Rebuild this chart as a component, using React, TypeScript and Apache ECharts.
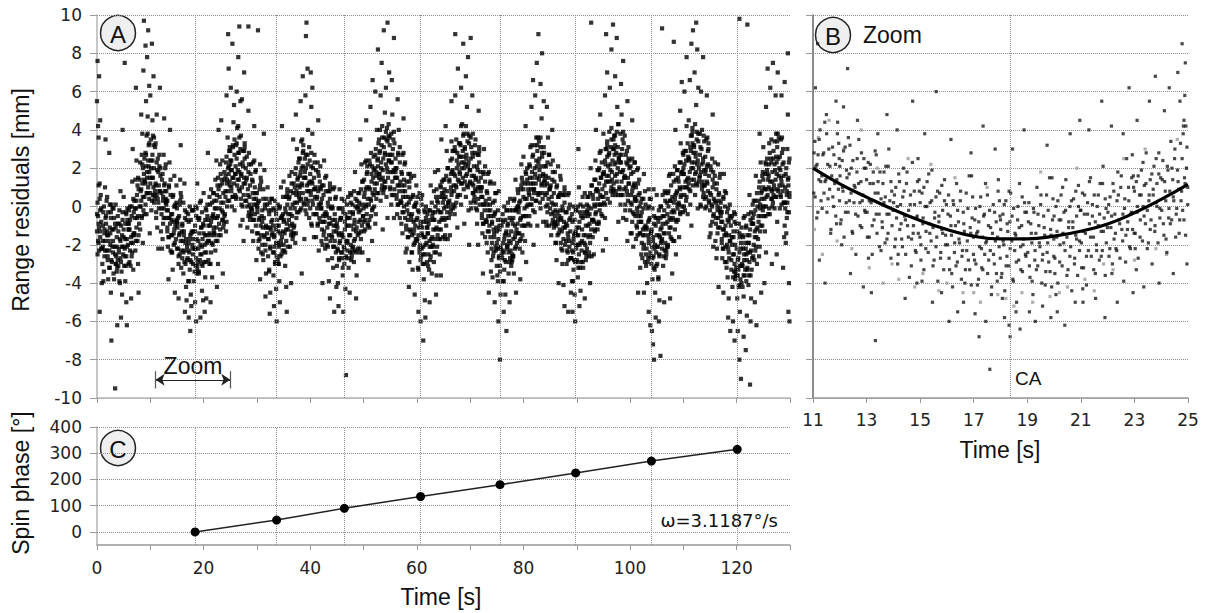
import React, { useEffect, useRef } from "react";
import * as echarts from "echarts";

// ---------------- DATA ----------------
// Panel C: spin phase fixes (time in s, phase in degrees)
const spinTimes = [18.4, 33.7, 46.4, 60.7, 75.6, 89.8, 104.0, 120.1];
const spinPhases = [0, 45, 90, 135, 180, 225, 270, 315];
const spinRateText = "\u03c9=3.1187\u00b0/s";

// Panel B: fitted curve (time in s, residual in mm)
const fitTimesB = [11, 12, 13, 14, 15, 16, 17, 18, 19, 20, 21, 22, 23, 24, 25];
const fitValuesB = [2.0, 1.18, 0.49, -0.16, -0.73, -1.2, -1.55, -1.69, -1.69, -1.55, -1.29, -0.91, -0.33, 0.37, 1.15];
const closestApproach = 18.35;
const zoomStart = 11;
const zoomEnd = 25;

// Panel A residuals, flat pairs: time in 0.1 s, residual in 0.1 mm
const residA00 = [
0,-13,1,2,1,-25,2,-5,3,-19,3,11,4,-11,5,12,6,-2,6,-16,7,6,8,-22,8,-8,9,-40,2,42,5,-55,1,76,4,68,6,45,0,55,3,36,
10,-30,11,-10,11,-21,12,-39,13,0,14,-14,14,-26,15,10,15,-18,16,-6,17,-5,18,-23,19,5,19,-13,16,35,
20,-26,21,-38,21,-3,22,-18,23,-23,24,-32,24,1,25,-14,26,-45,26,-6,27,-28,28,-12,29,-21,29,-1,27,-70,23,28,
30,-24,31,-12,31,-1,32,-38,33,-21,34,-9,35,-30,35,1,36,-26,37,-16,37,-34,38,-32,39,-5,39,-28,34,-95,38,-62,
40,-13,40,-31,41,-22,42,-2,42,-39,43,-17,44,-27,44,8,45,-10,46,-34,47,-21,47,-46,48,-7,49,-25,45,-58,48,40,
50,-16,50,5,51,-31,52,-22,53,-39,53,-9,54,-3,55,-26,55,-50,56,-17,57,-1,57,-7,58,-20,59,-12,56,-62,52,75,
60,-2,60,-9,61,-12,62,-23,62,-7,63,-31,64,-16,65,0,65,-26,66,13,67,-19,68,4,68,-33,69,-14,64,-48,67,30,
70,3,70,-15,71,-6,72,14,72,-23,73,-1,74,-11,74,24,75,6,76,-18,77,-5,77,-30,78,9,79,-9,73,62,78,-45,
80,0,81,-12,81,23,82,8,83,3,84,-6,84,27,85,12,86,-19,86,20,87,-2,88,14,89,5,89,25,83,48,87,71,85,38,88,97,
90,13,91,28,91,1,92,21,93,7,93,37,94,15,95,38,96,24,96,10,97,32,98,4,98,18,99,-14,92,55,94,78,96,92,98,63,95,47,91,84
];
const residA10 = [
100,12,101,24,101,35,102,-2,103,15,104,27,105,6,105,37,106,10,107,20,107,2,108,4,109,31,109,8,100,58,103,85,106,68,104,45,
110,12,110,33,111,-3,112,6,113,-11,113,19,114,25,115,2,115,-22,116,11,117,27,117,21,118,8,119,16,112,48,118,62,
120,-13,121,7,121,-4,122,-22,123,17,124,3,124,-9,125,27,125,-1,126,11,127,12,128,-6,129,22,129,4,126,46,
130,8,130,1,131,-2,132,-13,132,3,133,-21,134,-6,135,10,135,-16,136,23,137,-9,138,14,138,-23,139,-4,134,-38,137,40,
140,-24,141,-4,141,-15,142,-33,143,6,144,-8,144,-20,145,16,145,-12,146,0,147,1,148,-17,149,11,149,-7,146,-45,
150,-1,150,-8,151,-11,152,-22,152,-6,153,-30,154,-15,155,1,155,-25,156,14,157,-18,158,5,158,-32,159,-13,153,-48,157,32,
160,-9,160,-27,161,-18,162,2,162,-35,163,-13,164,-23,164,12,165,-6,166,-30,167,-17,167,-42,168,-3,169,-21,165,-55,168,-49,
170,-27,171,-39,171,-4,172,-19,173,-24,174,-33,174,0,175,-15,176,-46,176,-7,177,-29,178,-13,179,-22,179,-2,172,-58,177,-52,175,-65,
180,-25,181,-13,181,-2,182,-39,183,-22,184,-10,185,-31,185,0,186,-27,187,-17,187,-35,188,-33,189,-6,189,-29,184,-50,186,-60,188,12,
190,-22,191,-7,191,-34,192,-14,193,-28,193,2,194,-20,195,3,196,-11,196,-25,197,-3,198,-31,198,-17,199,-49,194,-58,197,-44
];
const residA20 = [
200,-14,200,7,201,-29,202,-20,203,-37,203,-7,204,-1,205,-24,205,-48,206,-15,207,1,207,-5,208,-18,209,-10,202,-55,208,28,
210,-18,211,-30,211,5,212,-10,213,-15,214,-24,214,9,215,-6,216,-37,216,2,217,-20,218,-4,219,-13,219,7,213,-50,
220,3,220,-15,221,-6,222,14,222,-23,223,-1,224,-11,224,24,225,6,226,-18,227,-5,227,-30,228,9,229,-9,225,-42,228,40,
230,-1,231,11,231,22,232,-15,233,2,234,14,235,-7,235,24,236,-3,237,7,237,-11,238,-9,239,18,239,-5,233,45,236,-35,
240,-4,241,16,241,5,242,-13,243,26,244,12,244,0,245,36,245,8,246,20,247,21,248,3,249,31,249,13,243,58,247,72,246,90,
250,29,250,22,251,19,252,8,252,24,253,0,254,15,255,31,255,5,256,44,257,12,258,35,258,-2,259,17,251,62,254,85,257,53,
260,17,261,32,261,5,262,25,263,11,263,41,264,19,265,42,266,28,266,14,267,36,268,8,268,22,269,-10,262,60,265,78,267,94,269,55,
270,16,270,37,271,1,272,10,273,-7,273,23,274,29,275,6,275,-18,276,15,277,31,277,25,278,12,279,20,272,56,276,70,
280,3,281,15,281,26,282,-11,283,6,284,18,285,-3,285,28,286,1,287,11,287,-7,288,-5,289,22,289,-1,284,50,284,94,
290,-1,291,14,291,-13,292,7,293,-7,293,23,294,1,295,24,296,10,296,-4,297,18,298,-10,298,4,299,-28,295,42
];
const residA30 = [
300,7,300,0,301,-3,302,-14,302,2,303,-22,304,-7,305,9,305,-17,306,22,307,-10,308,13,308,-24,309,-5,306,-38,302,92,
310,-2,310,-20,311,-11,312,9,312,-28,313,-6,314,-16,314,19,315,1,316,-23,317,-10,317,-35,318,4,319,-14,316,-47,313,38,
320,-11,320,10,321,-26,322,-17,323,-34,323,-4,324,2,325,-21,325,-45,326,-12,327,4,327,-2,328,-15,329,-7,324,-56,
330,-24,331,-36,331,-1,332,-16,333,-21,334,-30,334,3,335,-12,336,-43,336,-4,337,-26,338,-10,339,-19,339,1,332,-52,337,-60,
340,-30,341,-10,341,-21,342,-39,343,0,344,-14,344,-26,345,10,345,-18,346,-6,347,-5,348,-23,349,5,349,-13,343,-50,347,42,
350,-8,350,13,351,-23,352,-14,353,-31,353,-1,354,5,355,-18,355,-42,356,-9,357,7,357,1,358,-12,359,-4,356,-55,
360,-7,361,5,361,16,362,-21,363,-4,364,8,365,-13,365,18,366,-9,367,1,367,-17,368,-15,369,12,369,-11,364,-40,368,35,
370,-10,371,10,371,-1,372,-19,373,20,374,6,374,-6,375,30,375,2,376,14,377,15,378,-3,379,25,379,7,373,48,
380,10,381,25,381,-2,382,18,383,4,383,34,384,12,385,35,386,21,386,7,387,29,388,1,388,15,389,-17,382,55,386,68,384,-35,
390,25,390,18,391,15,392,4,392,20,393,-4,394,11,395,27,395,1,396,40,397,8,398,31,398,-6,399,13,391,58,395,72,393,96,392,89
];
const residA40 = [
400,17,400,-1,401,8,402,28,402,-9,403,13,404,3,404,38,405,20,406,-4,407,9,407,-16,408,23,409,5,402,52,401,70,404,62,
410,-4,411,-16,411,19,412,4,413,-1,414,-10,414,23,415,8,416,-23,416,16,417,-6,418,10,419,1,419,21,415,45,
420,9,420,2,421,-1,422,-12,422,4,423,-20,424,-5,425,11,425,-15,426,24,427,-8,428,15,428,-22,429,-3,423,-40,
430,-5,430,16,431,-20,432,-11,433,-28,433,2,434,8,435,-15,435,-39,436,-6,437,10,437,4,438,-9,439,-1,437,-48,
440,-15,441,0,441,-27,442,-7,443,-21,443,9,444,-13,445,10,446,-4,446,-18,447,4,448,-24,448,-10,449,-42,445,-55,
450,-31,451,-11,451,-22,452,-40,453,-1,454,-15,454,-27,455,9,455,-19,456,-7,457,-6,458,-24,459,4,459,-14,453,-52,
460,-24,461,-36,461,-1,462,-16,463,-21,464,-30,464,3,465,-12,466,-43,466,-4,467,-26,468,-10,469,-19,469,1,462,-55,467,-88,
470,-18,471,-6,471,5,472,-32,473,-15,474,-3,475,-24,475,7,476,-20,477,-10,477,-28,478,-26,479,1,479,-22,474,-45,
480,-3,480,-21,481,-12,482,8,482,-29,483,-7,484,-17,484,18,485,0,486,-24,487,-11,487,-36,488,3,489,-15,486,-48,
490,7,490,0,491,-3,492,-14,492,2,493,-22,494,-7,495,9,495,-17,496,22,497,-10,498,13,498,-24,499,-5,494,35
];
const residA50 = [
500,-1,501,14,501,-13,502,7,503,-7,503,23,504,1,505,24,506,10,506,-4,507,18,508,-10,508,4,509,-28,505,45,
510,1,511,-11,511,24,512,9,513,4,514,-5,514,28,515,13,516,-18,516,21,517,-1,518,15,519,6,519,26,513,52,517,66,
520,0,521,20,521,9,522,-9,523,30,524,16,524,4,525,40,525,12,526,24,527,25,528,7,529,35,529,17,522,60,527,82,
530,17,531,29,531,40,532,3,533,20,534,32,535,11,535,42,536,15,537,25,537,7,538,9,539,36,539,13,532,58,534,75,538,92,536,-12,
540,28,540,49,541,13,542,22,543,5,543,35,544,41,545,18,545,-6,546,27,547,43,547,37,548,24,549,32,542,62,545,96,548,70,
550,27,550,9,551,18,552,38,552,1,553,23,554,13,554,48,555,30,556,6,557,19,557,-6,558,33,559,15,553,66,557,88,
560,25,560,18,561,15,562,4,562,20,563,-4,564,11,565,27,565,1,566,40,567,8,568,31,568,-6,569,13,564,56,
570,3,571,18,571,-9,572,11,573,-3,573,27,574,5,575,28,576,14,576,0,577,22,578,-6,578,8,579,-24,575,46,
580,-10,581,-22,581,13,582,-2,583,-7,584,-16,584,17,585,2,586,-29,586,10,587,-12,588,4,589,-5,589,15,585,-42,
590,-24,591,-4,591,-15,592,-33,593,6,594,-8,594,-20,595,16,595,-12,596,0,597,1,598,-17,599,11,599,-7,596,-46
];
const residA60 = [
600,-18,601,-6,601,5,602,-32,603,-15,604,-3,605,-24,605,7,606,-20,607,-10,607,-28,608,-26,609,1,609,-22,603,-55,607,-60,
610,-15,610,6,611,-30,612,-21,613,-38,613,-8,614,-2,615,-25,615,-49,616,-16,617,0,617,-6,618,-19,619,-11,612,-70,616,-58,
620,-4,620,-11,621,-14,622,-25,622,-9,623,-33,624,-18,625,-2,625,-28,626,11,627,-21,628,2,628,-35,629,-16,624,-50,
630,-3,630,-21,631,-12,632,8,632,-29,633,-7,634,-17,634,18,635,0,636,-24,637,-11,637,-36,638,3,639,-15,636,-46,
640,-2,640,19,641,-17,642,-8,643,-25,643,5,644,11,645,-12,645,-36,646,-3,647,13,647,7,648,-6,649,2,646,35,
650,14,650,7,651,4,652,-7,652,9,653,-15,654,0,655,16,655,-10,656,29,657,-3,658,20,658,-17,659,2,654,42,
660,-6,661,14,661,3,662,-15,663,24,664,10,664,-2,665,34,665,6,666,18,667,19,668,1,669,29,669,11,665,55,
670,8,671,-4,671,31,672,16,673,11,674,2,674,35,675,20,676,-11,676,28,677,6,678,22,679,13,679,33,672,58,677,72,672,90,
680,18,681,33,681,6,682,26,683,12,683,42,684,20,685,43,686,29,686,15,687,37,688,9,688,23,689,-9,683,62,687,85,
690,31,690,13,691,22,692,42,692,5,693,27,694,17,694,52,695,34,696,10,697,23,697,-2,698,37,699,19,692,68,696,78,698,-20
];
const residA70 = [
700,13,701,25,701,36,702,-1,703,16,704,28,705,7,705,38,706,11,707,21,707,3,708,5,709,32,709,9,704,58,701,88,
710,14,710,35,711,-1,712,8,713,-9,713,21,714,27,715,4,715,-20,716,13,717,29,717,23,718,10,719,18,716,50,
720,15,720,8,721,5,722,-6,722,10,723,-14,724,1,725,17,725,-9,726,30,727,-2,728,21,728,-16,729,3,724,-35,
730,-7,731,8,731,-19,732,1,733,-13,733,17,734,-5,735,18,736,4,736,-10,737,12,738,-16,738,-2,739,-34,735,-45,
740,-28,741,-8,741,-19,742,-37,743,2,744,-12,744,-24,745,12,745,-16,746,-4,747,-3,748,-21,749,7,749,-11,746,-50,
750,-13,750,-31,751,-22,752,-2,752,-39,753,-17,754,-27,754,8,755,-10,756,-34,757,-21,757,-46,758,-7,759,-25,753,-60,756,-80,
760,-27,761,-39,761,-4,762,-19,763,-24,764,-33,764,0,765,-15,766,-46,766,-7,767,-29,768,-13,769,-22,769,-2,763,-55,768,-65,
770,-21,771,-9,771,2,772,-35,773,-18,774,-6,775,-27,775,4,776,-23,777,-13,777,-31,778,-29,779,-2,779,-25,774,-50,
780,-26,781,-6,781,-17,782,-35,783,4,784,-10,784,-22,785,14,785,-14,786,-2,787,-1,788,-19,789,9,789,-9,786,-45,
790,7,790,0,791,-3,792,-14,792,2,793,-22,794,-7,795,9,795,-17,796,22,797,-10,798,13,798,-24,799,-5,794,-38
];
const residA80 = [
800,5,800,26,801,-10,802,-1,803,-18,803,12,804,18,805,-5,805,-29,806,4,807,20,807,14,808,1,809,9,804,42,
810,7,811,22,811,-5,812,15,813,1,813,31,814,9,815,32,816,18,816,4,817,26,818,-2,818,12,819,-20,815,52,818,66,
820,9,821,-3,821,32,822,17,823,12,824,3,824,36,825,21,826,-10,826,29,827,7,828,23,829,14,829,34,822,58,825,75,828,90,
830,25,830,7,831,16,832,36,832,-1,833,21,834,11,834,46,835,28,836,4,837,17,837,-8,838,31,839,13,832,64,835,80,838,55,
840,21,840,14,841,11,842,0,842,16,843,-8,844,7,845,23,845,-3,846,36,847,4,848,27,848,-10,849,9,844,52,
850,-1,851,11,851,22,852,-15,853,2,854,14,855,-7,855,24,856,-3,857,7,857,-11,858,-9,859,18,859,-5,854,40,
860,-19,861,1,861,-10,862,-28,863,11,864,-3,864,-15,865,21,865,-7,866,5,867,6,868,-12,869,16,869,-2,866,-40,
870,-7,870,14,871,-22,872,-13,873,-30,873,0,874,6,875,-17,875,-41,876,-8,877,8,877,2,878,-11,879,-3,877,-52,
880,-18,881,-3,881,-30,882,-10,883,-24,883,6,884,-16,885,7,886,-7,886,-21,887,1,888,-27,888,-13,889,-45,884,-55,
890,-27,891,-39,891,-4,892,-19,893,-24,894,-33,894,0,895,-15,896,-46,896,-7,897,-29,898,-13,899,-22,899,-2,892,-55,897,-60
];
const residA90 = [
900,-11,900,-29,901,-20,902,0,902,-37,903,-15,904,-25,904,10,905,-8,906,-32,907,-19,907,-44,908,-5,909,-23,905,-52,903,30,
910,-18,911,-6,911,5,912,-32,913,-15,914,-3,915,-24,915,7,916,-20,917,-10,917,-28,918,-26,919,1,919,-22,915,-48,
920,5,920,-2,921,-5,922,-16,922,0,923,-24,924,-9,925,7,925,-19,926,20,927,-12,928,11,928,-26,929,-7,925,-40,927,96,
930,-16,931,4,931,-7,932,-25,933,14,934,0,934,-12,935,24,935,-4,936,8,937,9,938,-9,939,19,939,1,936,40,
940,4,941,19,941,-8,942,12,943,-2,943,28,944,6,945,29,946,15,946,1,947,23,948,-5,948,9,949,-23,944,48,
950,17,950,38,951,2,952,11,953,-6,953,24,954,30,955,7,955,-17,956,16,957,32,957,26,958,13,959,21,953,58,957,70,955,90,
960,16,961,28,961,39,962,2,963,19,964,31,965,10,965,41,966,14,967,24,967,6,968,8,969,35,969,12,962,62,965,82,968,95,
970,37,970,30,971,27,972,16,972,32,973,8,974,23,975,39,975,13,976,52,977,20,978,43,978,6,979,25,972,68,975,88,978,-8,
980,27,980,9,981,18,982,38,982,1,983,23,984,13,984,48,985,30,986,6,987,19,987,-6,988,33,989,15,983,64,987,76,
990,16,990,37,991,1,992,10,993,-7,993,23,994,29,995,6,995,-18,996,15,997,31,997,25,998,12,999,20,995,55
];
const residA100 = [
1000,-2,1001,-14,1001,21,1002,6,1003,1,1004,-8,1004,25,1005,10,1006,-21,1006,18,1007,-4,1008,12,1009,3,1009,23,1004,45,
1010,-5,1011,10,1011,-17,1012,3,1013,-11,1013,19,1014,-3,1015,20,1016,6,1016,-8,1017,14,1018,-14,1018,0,1019,-32,1015,-45,
1020,2,1020,-5,1021,-8,1022,-19,1022,-3,1023,-27,1024,-12,1025,4,1025,-22,1026,17,1027,-15,1028,8,1028,-29,1029,-10,1026,-45,
1030,-31,1031,-11,1031,-22,1032,-40,1033,-1,1034,-15,1034,-27,1035,9,1035,-19,1036,-7,1037,-6,1038,-24,1039,4,1039,-14,1035,-55,1038,-62,
1040,-12,1040,-30,1041,-21,1042,-1,1042,-38,1043,-16,1044,-26,1044,9,1045,-9,1046,-33,1047,-20,1047,-45,1048,-6,1049,-24,1041,-65,1043,-72,1045,-80,1048,-58,
1050,-15,1050,6,1051,-30,1052,-21,1053,-38,1053,-8,1054,-2,1055,-25,1055,-49,1056,-16,1057,0,1057,-6,1058,-19,1059,-11,1054,-60,1057,-78,
1060,-17,1061,-5,1061,6,1062,-31,1063,-14,1064,-2,1065,-23,1065,8,1066,-19,1067,-9,1067,-27,1068,-25,1069,2,1069,-21,1064,-50,1060,93,
1070,-8,1071,7,1071,-20,1072,0,1073,-14,1073,16,1074,-6,1075,17,1076,3,1076,-11,1077,11,1078,-17,1078,-3,1079,-35,1075,-48,
1080,-6,1081,-18,1081,17,1082,2,1083,-3,1084,-12,1084,21,1085,6,1086,-25,1086,14,1087,-8,1088,8,1089,-1,1089,19,1085,40,1082,86,
1090,-7,1091,13,1091,2,1092,-16,1093,23,1094,9,1094,-3,1095,33,1095,5,1096,17,1097,18,1098,0,1099,28,1099,10,1094,50,1097,65
];
const residA110 = [
1100,27,1100,20,1101,17,1102,6,1102,22,1103,-2,1104,13,1105,29,1105,3,1106,42,1107,10,1108,33,1108,-4,1109,15,1102,60,1106,78,
1110,24,1110,45,1111,9,1112,18,1113,1,1113,31,1114,37,1115,14,1115,-10,1116,23,1117,39,1117,33,1118,20,1119,28,1112,66,1115,85,1118,92,
1120,32,1120,14,1121,23,1122,43,1122,6,1123,28,1124,18,1124,53,1125,35,1126,11,1127,24,1127,-1,1128,38,1129,20,1121,70,1124,96,1126,82,1128,62,
1130,15,1131,27,1131,38,1132,1,1133,18,1134,30,1135,9,1135,40,1136,13,1137,23,1137,5,1138,7,1139,34,1139,11,1133,60,1137,78,
1140,11,1141,26,1141,-1,1142,19,1143,5,1143,35,1144,13,1145,36,1146,22,1146,8,1147,30,1148,2,1148,16,1149,-16,1144,58,
1150,-2,1151,-14,1151,21,1152,6,1153,1,1154,-8,1154,25,1155,10,1156,-21,1156,18,1157,-4,1158,12,1159,3,1159,23,1155,48,
1160,-18,1161,2,1161,-9,1162,-27,1163,12,1164,-2,1164,-14,1165,22,1165,-6,1166,6,1167,7,1168,-11,1169,17,1169,-1,1166,-42,
1170,2,1170,-5,1171,-8,1172,-19,1172,-3,1173,-27,1174,-12,1175,4,1175,-22,1176,17,1177,-15,1178,8,1178,-29,1179,-10,1175,-45,
1180,-14,1180,7,1181,-29,1182,-20,1183,-37,1183,-7,1184,-1,1185,-24,1185,-48,1186,-15,1187,1,1187,-5,1188,-18,1189,-10,1184,-58,1188,-65,
1190,-28,1191,-16,1191,-5,1192,-42,1193,-25,1194,-13,1195,-34,1195,-3,1196,-30,1197,-20,1197,-38,1198,-36,1199,-9,1199,-32,1193,-60,1196,-70
];
const residA120 = [
1200,-36,1201,-48,1201,-13,1202,-28,1203,-33,1204,-42,1204,-9,1205,-24,1206,-55,1206,-16,1207,-38,1208,-22,1209,-31,1209,-11,1202,-65,1205,-80,1208,-90,1205,98,
1210,-30,1211,-15,1211,-42,1212,-22,1213,-36,1213,-6,1214,-28,1215,-5,1216,-19,1216,-33,1217,-11,1218,-39,1218,-25,1219,-57,1213,-68,1217,-75,
1220,-15,1220,-33,1221,-24,1222,-4,1222,-41,1223,-19,1224,-29,1224,6,1225,-12,1226,-36,1227,-23,1227,-48,1228,-9,1229,-27,1225,-93,1226,-60,1220,95,
1230,1,1230,-6,1231,-9,1232,-20,1232,-4,1233,-28,1234,-13,1235,3,1235,-23,1236,16,1237,-16,1238,7,1238,-30,1239,-11,1234,-50,1237,-62,
1240,-17,1241,3,1241,-8,1242,-26,1243,13,1244,-1,1244,-13,1245,23,1245,-5,1246,7,1247,8,1248,-10,1249,18,1249,0,1246,-45,1243,38,
1250,10,1250,31,1251,-5,1252,4,1253,-13,1253,17,1254,23,1255,0,1255,-24,1256,9,1257,25,1257,19,1258,6,1259,14,1255,52,1252,-40,1258,72,
1260,10,1261,22,1261,33,1262,-4,1263,13,1264,25,1265,4,1265,35,1266,8,1267,18,1267,0,1268,2,1269,29,1269,6,1263,62,1266,-30,1268,75,
1270,11,1271,-1,1271,34,1272,19,1273,14,1274,5,1274,38,1275,23,1276,-8,1276,31,1277,9,1278,25,1279,16,1279,36,1273,58,1277,70,1275,-25,
1280,11,1281,26,1281,-1,1282,19,1283,5,1283,35,1284,13,1285,36,1286,22,1286,8,1287,30,1288,2,1288,16,1289,-16,1284,58,1287,-32,
1290,-10,1291,10,1291,-1,1292,-19,1293,20,1294,6,1294,-6,1295,30,1295,2,1296,14,1297,15,1298,-3,1299,25,1299,7,1296,48,1298,-40,1290,65,1296,80,1297,-55,1299,-60
];
// Panel A, additional points in the dense core (same units)
const denseA1 = [
0,-4,2,-18,3,-9,4,-23,5,4,6,-13,8,-1,9,-22,11,-18,12,-3,13,-34,14,-12,15,-23,17,-9,18,3,19,-15,
20,-28,21,-15,23,-32,24,-11,25,-20,26,-3,27,1,28,-29,30,-18,31,-35,32,-6,34,-25,35,-11,36,-30,37,-21,39,-9,
41,-24,42,-9,43,-40,44,-18,45,-29,47,-15,48,-3,49,-21,50,-12,52,-26,53,-17,54,-31,55,-4,56,-21,58,-9,59,-30,
60,-12,61,-29,62,0,64,-19,65,-5,66,-24,67,-15,69,-3,70,-14,71,-1,73,-18,74,3,75,-6,76,11,77,15,78,-15,
80,14,82,0,83,9,84,-5,85,22,86,5,88,17,89,-4,91,12,92,27,93,-4,94,18,95,7,97,21,98,33,99,15,
100,7,101,20,103,3,104,24,105,15,106,32,107,36,108,6,110,11,111,-6,112,23,114,4,115,18,116,-1,117,8,119,20,
121,-1,122,14,123,-17,124,5,125,-6,127,8,128,20,129,2,130,3,132,-11,133,-2,134,-16,135,11,136,-6,138,6,139,-15,
140,-7,141,-24,142,5,144,-14,145,0,146,-19,147,-10,149,2,150,-22,151,-9,153,-26,154,-5,155,-14,156,3,157,7,158,-23,
160,-10,162,-24,163,-15,164,-29,165,-2,166,-19,168,-7,169,-28,171,-23,172,-8,173,-39,174,-17,175,-28,177,-14,178,-2,179,-20,
180,-30,181,-17,183,-34,184,-13,185,-22,186,-5,187,-1,188,-31,190,-18,191,-35,192,-6,194,-25,195,-11,196,-30,197,-21,199,-9,
200,-10,202,-24,203,-15,204,-29,205,-2,206,-19,208,-7,209,-28,211,-14,212,1,213,-30,214,-8,215,-19,217,-5,218,7,219,-11,
220,-14,221,-1,223,-18,224,3,225,-6,226,11,227,15,228,-15,230,5,231,-12,232,17,234,-2,235,12,236,-7,237,2,239,14,
241,8,242,23,243,-8,244,14,245,3,247,17,248,29,249,11,250,24,252,10,253,19,254,5,255,32,256,15,258,27,259,6,
260,21,261,4,262,33,264,14,265,28,266,9,267,18,269,30,270,4,271,17,273,0,274,21,275,12,276,29,277,33,278,3,
280,14,282,0,283,9,284,-5,285,22,286,5,288,17,289,-4,291,-2,292,13,293,-18,294,4,295,-7,297,7,298,19,299,1,
300,-14,301,-1,303,-18,304,3,305,-6,306,11,307,15,308,-15,310,-8,311,-25,312,4,314,-15,315,-1,316,-20,317,-11,319,1,
321,-17,322,-2,323,-33,324,-11,325,-22,327,-8,328,4,329,-14,330,-10,332,-24,333,-15,334,-29,335,-2,336,-19,338,-7,339,-28,
340,-13,341,-30,342,-1,344,-20,345,-6,346,-25,347,-16,349,-4,350,-20,351,-7,353,-24,354,-3,355,-12,356,5,357,9,358,-21,
360,4,362,-10,363,-1,364,-15,365,12,366,-5,368,7,369,-14,371,2,372,17,373,-14,374,8,375,-3,377,11,378,23,379,5,
380,3,381,16,383,-1,384,20,385,11,386,28,387,32,388,2,390,15,391,-2,392,27,394,8,395,22,396,3,397,12,399,24
];
const denseA2 = [
401,6,402,21,403,-10,404,12,405,1,407,15,408,27,409,9,410,10,412,-4,413,5,414,-9,415,18,416,1,418,13,419,-8,
420,-1,421,-18,422,11,424,-8,425,6,426,-13,427,-4,429,8,430,-17,431,-4,433,-21,434,0,435,-9,436,8,437,12,438,-18,
441,-16,442,-1,443,-32,444,-10,445,-21,447,-7,448,5,449,-13,450,-9,452,-23,453,-14,454,-28,455,-1,456,-18,458,-6,459,-27,
460,-15,461,-32,462,-3,464,-22,465,-8,466,-27,467,-18,469,-6,470,-23,471,-10,473,-27,474,-6,475,-15,476,2,477,6,478,-24,
480,-4,482,-18,483,-9,484,-23,485,4,486,-13,488,-1,489,-22,491,-8,492,7,493,-24,494,-2,495,-13,497,1,498,13,499,-5,
500,-8,501,5,503,-12,504,9,505,0,506,17,507,21,508,-9,510,10,511,-7,512,22,514,3,515,17,516,-2,517,7,519,19,
521,12,522,27,523,-4,524,18,525,7,527,21,528,33,529,15,530,28,532,14,533,23,534,9,535,36,536,19,538,31,539,10,
540,27,541,10,542,39,544,20,545,34,546,15,547,24,549,36,550,10,551,23,553,6,554,27,555,18,556,35,557,39,558,9,
560,20,562,6,563,15,564,1,565,28,566,11,568,23,569,2,571,2,572,17,573,-14,574,8,575,-3,577,11,578,23,579,5,
580,-12,581,1,583,-16,584,5,585,-4,586,13,587,17,588,-13,590,-7,591,-24,592,5,594,-14,595,0,596,-19,597,-10,599,2,
601,-17,602,-2,603,-33,604,-11,605,-22,607,-8,608,4,609,-14,610,-11,612,-25,613,-16,614,-30,615,-3,616,-20,618,-8,619,-29,
620,-14,621,-31,622,-2,624,-21,625,-7,626,-26,627,-17,629,-5,630,-20,631,-7,633,-24,634,-3,635,-12,636,5,637,9,638,-21,
640,2,642,-12,643,-3,644,-17,645,10,646,-7,648,5,649,-16,651,-1,652,14,653,-17,654,5,655,-6,657,8,658,20,659,2,
660,0,661,13,663,-4,664,17,665,8,666,25,667,29,668,-1,670,17,671,0,672,29,674,10,675,24,676,5,677,14,679,26,
681,17,682,32,683,1,684,23,685,12,687,26,688,38,689,20,690,30,692,16,693,25,694,11,695,38,696,21,698,33,699,12,
700,19,701,2,702,31,704,12,705,26,706,7,707,16,709,28,710,2,711,15,713,-2,714,19,715,10,716,27,717,31,718,1,
720,10,722,-4,723,5,724,-9,725,18,726,1,728,13,729,-8,731,-8,732,7,733,-24,734,-2,735,-13,737,1,738,13,739,-5,
740,-22,741,-9,743,-26,744,-5,745,-14,746,3,747,7,748,-23,750,-19,751,-36,752,-7,754,-26,755,-12,756,-31,757,-22,759,-10,
761,-23,762,-8,763,-39,764,-17,765,-28,767,-14,768,-2,769,-20,770,-10,772,-24,773,-15,774,-29,775,-2,776,-19,778,-7,779,-28,
780,-9,781,-26,782,3,784,-16,785,-2,786,-21,787,-12,789,0,790,-14,791,-1,793,-18,794,3,795,-6,796,11,797,15,798,-15
];
const denseA3 = [
800,9,802,-5,803,4,804,-10,805,17,806,0,808,12,809,-9,811,6,812,21,813,-10,814,12,815,1,817,15,818,27,819,9,
820,7,821,20,823,3,824,24,825,15,826,32,827,36,828,6,830,19,831,2,832,31,834,12,835,26,836,7,837,16,839,28,
841,6,842,21,843,-10,844,12,845,1,847,15,848,27,849,9,850,10,852,-4,853,5,854,-9,855,18,856,1,858,13,859,-8,
860,-2,861,-19,862,10,864,-9,865,5,866,-14,867,-5,869,7,870,-19,871,-6,873,-23,874,-2,875,-11,876,6,877,10,878,-20,
880,-9,882,-23,883,-14,884,-28,885,-1,886,-18,888,-6,889,-27,891,-23,892,-8,893,-39,894,-17,895,-28,897,-14,898,-2,899,-20,
900,-28,901,-15,903,-32,904,-11,905,-20,906,-3,907,1,908,-29,910,-12,911,-29,912,0,914,-19,915,-5,916,-24,917,-15,919,-3,
921,-10,922,5,923,-26,924,-4,925,-15,927,-1,928,11,929,-7,930,6,932,-8,933,1,934,-13,935,14,936,-3,938,9,939,-12,
940,8,941,-9,942,20,944,1,945,15,946,-4,947,5,949,17,950,5,951,18,953,1,954,22,955,13,956,30,957,34,958,4,
960,27,962,13,963,22,964,8,965,35,966,18,968,30,969,9,971,22,972,37,973,6,974,28,975,17,977,31,978,43,979,25,
980,10,981,23,983,6,984,27,985,18,986,35,987,39,988,9,990,15,991,-2,992,27,994,8,995,22,996,3,997,12,999,24,
1001,2,1002,17,1003,-14,1004,8,1005,-3,1007,11,1008,23,1009,5,1010,4,1012,-10,1013,-1,1014,-15,1015,12,1016,-5,1018,7,1019,-14,
1020,-8,1021,-25,1022,4,1024,-15,1025,-1,1026,-20,1027,-11,1029,1,1030,-25,1031,-12,1033,-29,1034,-8,1035,-17,1036,0,1037,4,1038,-26,
1040,-13,1042,-27,1043,-18,1044,-32,1045,-5,1046,-22,1048,-10,1049,-31,1051,-21,1052,-6,1053,-37,1054,-15,1055,-26,1057,-12,1058,0,1059,-18,
1060,-22,1061,-9,1063,-26,1064,-5,1065,-14,1066,3,1067,7,1068,-23,1070,-4,1071,-21,1072,8,1074,-11,1075,3,1076,-16,1077,-7,1079,5,
1081,-2,1082,13,1083,-18,1084,4,1085,-7,1087,7,1088,19,1089,1,1090,15,1092,1,1093,10,1094,-4,1095,23,1096,6,1098,18,1099,-3,
1100,17,1101,0,1102,29,1104,10,1105,24,1106,5,1107,14,1109,26,1110,12,1111,25,1113,8,1114,29,1115,20,1116,37,1117,41,1118,11,
1120,31,1122,17,1123,26,1124,12,1125,39,1126,22,1128,34,1129,13,1131,16,1132,31,1133,0,1134,22,1135,11,1137,25,1138,37,1139,19,
1140,4,1141,17,1143,0,1144,21,1145,12,1146,29,1147,33,1148,3,1150,7,1151,-10,1152,19,1154,0,1155,14,1156,-5,1157,4,1159,16,
1161,-6,1162,9,1163,-22,1164,0,1165,-11,1167,3,1168,15,1169,-3,1170,-3,1172,-17,1173,-8,1174,-22,1175,5,1176,-12,1178,0,1179,-21,
1180,-15,1181,-32,1182,-3,1184,-22,1185,-8,1186,-27,1187,-18,1189,-6,1190,-33,1191,-20,1193,-37,1194,-16,1195,-25,1196,-8,1197,-4,1198,-34,
1200,-22,1202,-36,1203,-27,1204,-41,1205,-14,1206,-31,1208,-19,1209,-40,1211,-31,1212,-16,1213,-47,1214,-25,1215,-36,1217,-22,1218,-10,1219,-28,
1220,-32,1221,-19,1223,-36,1224,-15,1225,-24,1226,-7,1227,-3,1228,-33,1230,-9,1231,-26,1232,3,1234,-16,1235,-2,1236,-21,1237,-12,1239,0,
1241,-5,1242,10,1243,-21,1244,1,1245,-10,1247,4,1248,16,1249,-2,1250,14,1252,0,1253,9,1254,-5,1255,22,1256,5,1258,17,1259,-4,
1260,16,1261,-1,1262,28,1264,9,1265,23,1266,4,1267,13,1269,25,1270,9,1271,22,1273,5,1274,26,1275,17,1276,34,1277,38,1278,8,
1280,20,1282,6,1283,15,1284,1,1285,28,1286,11,1288,23,1289,2,1291,2,1292,17,1293,-14,1294,8,1295,-3,1297,11,1298,23,1299,5
];

// Panel B residuals, flat pairs: time in 0.01 s, residual in 0.1 mm
const residB1 = [
1103,7,1107,34,1111,21,1114,-6,1119,27,1122,14,1126,40,1130,3,1133,16,1137,27,1141,7,1144,44,1148,14,1152,-3,1155,22,1159,30,1162,9,1166,-14,1170,16,1173,31,1177,0,1181,12,1184,22,1188,-9,1191,38,1195,9,1198,25,1109,62,1124,-28,1150,48,1186,55,1117,85,1145,-40,
1201,16,1205,-7,1209,24,1212,8,1216,-16,1220,31,1224,2,1227,15,1231,-3,1235,17,1238,32,1242,7,1246,-13,1249,24,1253,2,1257,10,1260,-25,1264,18,1268,-5,1271,35,1275,2,1279,13,1282,-11,1286,6,1290,25,1293,-2,1297,20,1214,52,1240,-35,1266,45,1288,-42,1229,72,
1302,-3,1306,23,1310,-16,1313,12,1317,2,1321,-25,1325,18,1328,-7,1332,7,1336,27,1339,-14,1343,7,1347,-4,1350,18,1354,-23,1358,-8,1361,12,1365,2,1369,-19,1372,21,1376,-4,1380,-14,1383,30,1387,3,1391,-27,1394,8,1399,-2,1318,-45,1342,38,1333,-70,1376,48,
1401,2,1405,-21,1409,10,1412,-6,1416,-30,1420,17,1424,-12,1427,1,1431,-17,1435,5,1438,20,1442,-5,1446,-25,1449,12,1453,-10,1457,-2,1460,-37,1464,6,1468,-17,1471,23,1475,-10,1479,1,1482,-23,1486,-6,1490,13,1493,-14,1497,8,1414,40,1444,-48,1472,55,1488,-40
];
const residB2 = [
1503,-20,1507,7,1511,-6,1514,-33,1519,0,1522,-13,1526,13,1530,-24,1533,-9,1537,2,1541,-18,1544,19,1548,-11,1552,-28,1555,-3,1559,5,1562,-16,1566,-39,1570,-8,1573,7,1577,-24,1581,-12,1584,-2,1588,-33,1591,14,1595,-15,1598,1,1517,38,1546,-50,1560,60,1580,-45,
1602,-20,1606,6,1610,-33,1613,-5,1617,-15,1621,-42,1625,1,1628,-24,1632,-10,1636,12,1639,-29,1643,-8,1647,-19,1650,3,1654,-38,1658,-23,1661,-3,1665,-13,1669,-33,1672,7,1676,-18,1680,-28,1683,16,1687,-11,1691,-41,1694,-6,1699,-16,1615,35,1640,-55,1662,-50,1690,28,1608,-60,
1703,-28,1707,-1,1711,-14,1714,-41,1719,-8,1722,-21,1726,5,1730,-32,1733,-16,1737,-5,1741,-25,1744,12,1748,-18,1752,-35,1755,-10,1759,-2,1762,-23,1766,-46,1770,-14,1773,1,1777,-30,1781,-18,1784,-8,1788,-39,1791,8,1795,-21,1798,-5,1705,-56,1720,-68,1745,-60,1760,-85,1780,30,1735,42,
1801,-12,1805,-35,1809,-4,1812,-20,1816,-44,1820,3,1824,-26,1827,-13,1831,-31,1835,-8,1838,7,1842,-18,1846,-38,1849,-1,1853,-23,1857,-15,1860,-50,1864,-7,1868,-28,1871,12,1875,-21,1879,-10,1882,-34,1886,-17,1890,2,1893,-25,1897,-3,1815,-58,1832,-62,1836,-68,1845,30,1858,-55,1873,-64,1888,40,
1902,-24,1906,2,1910,-37,1913,-9,1917,-19,1921,-46,1925,-3,1928,-28,1932,-14,1936,10,1939,-31,1943,-10,1947,-21,1950,1,1954,-40,1958,-25,1961,-5,1965,-15,1969,-34,1972,6,1976,-19,1980,-29,1983,15,1987,-12,1991,-42,1994,-7,1999,-17,1908,-55,1930,-60,1957,-52,1974,32,1988,-58
];
const residB3 = [
2003,-27,2007,0,2011,-13,2014,-40,2019,-7,2022,-20,2026,6,2030,-31,2033,-14,2037,-3,2041,-23,2044,14,2048,-16,2052,-33,2055,-8,2059,0,2062,-21,2066,-44,2070,-11,2073,4,2077,-27,2081,-15,2084,-5,2088,-36,2091,11,2095,-18,2098,-2,2012,-55,2040,-62,2060,38,2079,-50,2096,45,
2102,-19,2106,7,2110,-32,2113,-4,2117,-14,2121,-41,2125,2,2128,-23,2132,-9,2136,15,2139,-26,2143,-5,2147,-16,2150,6,2154,-35,2158,-20,2161,0,2165,-10,2169,-28,2172,12,2176,-13,2180,-23,2183,21,2187,-6,2191,-36,2194,-1,2199,-11,2108,-50,2130,40,2155,-48,2178,55,2190,-58,
2201,-3,2205,-26,2209,5,2212,-11,2216,-35,2220,12,2224,-17,2227,-4,2231,-22,2235,3,2238,18,2242,-7,2246,-27,2249,10,2253,-12,2257,-4,2260,-39,2264,4,2268,-15,2271,25,2275,-8,2279,3,2282,-21,2286,-4,2290,15,2293,-12,2297,10,2214,42,2236,-50,2258,38,2280,62,2295,-45,
2303,-14,2307,13,2311,0,2314,-27,2319,6,2322,-7,2326,19,2330,-18,2333,0,2337,11,2341,-9,2344,28,2348,-2,2352,-19,2355,6,2359,14,2362,-7,2366,-30,2370,6,2373,21,2377,-10,2381,2,2384,12,2388,-19,2391,28,2395,-1,2398,15,2310,45,2335,-42,2356,55,2378,68,2392,-40,
2402,-2,2406,24,2410,-15,2413,13,2417,3,2421,-24,2425,19,2428,-6,2432,8,2436,34,2439,-7,2443,14,2447,3,2450,25,2454,-16,2458,-1,2461,19,2465,9,2469,-7,2472,33,2476,8,2480,-2,2483,42,2487,15,2491,-15,2494,20,2499,10,2412,50,2430,62,2445,-35,2462,70,2478,85,2488,58,2496,-30,2485,45,2470,55,2490,75,2482,38
];
const residB4 = [
1104,28,1108,5,1115,22,1118,-3,1123,35,1129,13,1134,-1,1140,28,1145,13,1151,38,1156,4,1163,21,1167,-12,1174,5,1178,27,1185,-5,1189,14,1192,44,1196,33,1199,3,
1295,-3,1291,20,1284,3,1281,28,1276,-10,1270,12,1265,25,1259,-4,1254,11,1248,-14,1243,20,1236,3,1232,36,1225,19,1221,-3,1214,29,1210,10,1207,-20,1203,-9,1200,21,
1395,-10,1391,13,1384,-4,1381,21,1376,-17,1370,5,1365,18,1359,-11,1354,4,1348,-21,1343,13,1336,-4,1332,29,1325,12,1321,-10,1314,22,1310,3,1307,-27,1303,-16,1300,14,
1404,6,1408,-17,1415,0,1418,-25,1423,13,1429,-9,1434,-21,1440,8,1445,-7,1451,18,1456,-16,1463,1,1467,-31,1474,-14,1478,8,1485,-24,1489,-5,1492,25,1496,14,1499,-16,
1595,-20,1591,3,1584,-14,1581,11,1576,-27,1570,-5,1565,8,1559,-21,1554,-6,1548,-31,1543,3,1536,-14,1532,17,1525,0,1521,-22,1514,10,1510,-9,1507,-39,1503,-28,1500,2,
1604,-4,1608,-27,1615,-10,1618,-35,1623,3,1629,-19,1634,-31,1640,-2,1645,-17,1651,8,1656,-26,1663,-9,1667,-40,1674,-23,1678,-1,1685,-33,1689,-14,1692,16,1696,5,1699,-25,
1704,-7,1708,-30,1715,-13,1718,-38,1723,0,1729,-22,1734,-33,1740,-4,1745,-19,1751,6,1756,-28,1763,-11,1767,-42,1774,-25,1778,-3,1785,-35,1789,-16,1792,14,1796,3,1799,-27
];
const residB5 = [
1895,-26,1891,-3,1884,-20,1881,5,1876,-33,1870,-11,1865,0,1859,-29,1854,-14,1848,-39,1843,-5,1836,-22,1832,8,1825,-9,1821,-31,1814,1,1810,-18,1807,-48,1803,-37,1800,-7,
1904,-8,1908,-31,1915,-14,1918,-39,1923,-1,1929,-23,1934,-33,1940,-4,1945,-19,1951,6,1956,-28,1963,-11,1967,-41,1974,-24,1978,-2,1985,-34,1989,-15,1992,15,1996,4,1999,-26,
2095,-23,2091,0,2084,-17,2081,8,2076,-30,2070,-8,2065,3,2059,-26,2054,-11,2048,-36,2043,-2,2036,-19,2032,10,2025,-7,2021,-29,2014,3,2010,-16,2007,-46,2003,-35,2000,-5,
2195,-19,2191,4,2184,-13,2181,12,2176,-26,2170,-4,2165,6,2159,-23,2154,-8,2148,-33,2143,1,2136,-16,2132,13,2125,-4,2121,-26,2114,6,2110,-13,2107,-43,2103,-32,2100,-2,
2204,1,2208,-22,2215,-5,2218,-30,2223,8,2229,-14,2234,-23,2240,6,2245,-9,2251,16,2256,-18,2263,-1,2267,-29,2274,-12,2278,10,2285,-22,2289,-3,2292,27,2296,16,2299,-14,
2395,-6,2391,17,2384,0,2381,25,2376,-13,2370,9,2365,17,2359,-12,2354,3,2348,-22,2343,12,2336,-5,2332,23,2325,6,2321,-16,2314,16,2310,-3,2307,-33,2303,-22,2300,8,
2404,14,2408,-9,2415,8,2418,-17,2423,21,2429,-1,2434,-9,2440,20,2445,5,2451,30,2456,-4,2463,13,2467,-14,2474,3,2478,25,2485,-7,2489,12,2492,42,2496,31,2499,1
];
const residBGray = [
1105,-12,1120,36,1135,-25,1160,45,1190,-18,1215,30,1245,-22,1280,40,1310,-32,1340,20,1362,-40,1395,-30,1420,-38,1455,25,1480,-42,1510,-35,1540,22,1570,-44,1600,-40,1630,15,1660,-45,1700,-45,1725,-50,1750,10,1790,-46,1820,-48,1850,-52,1880,-45,1920,-50,1950,18,1985,-47,2020,-45,2050,-42,2085,20,2115,-38,2150,-44,2185,-30,2220,-33,2260,25,2300,-28,2340,30,2380,-22,2420,-25,2460,35,2495,20
];

// ---------------- HELPERS ----------------
const toPairs = (flat: number[], tDiv: number, rDiv: number) => {
  const out: number[][] = [];
  for (let i = 0; i + 1 < flat.length; i += 2) out.push([flat[i] / tDiv, flat[i + 1] / rDiv]);
  return out;
};

const TICK_FONT = "DejaVu Sans";
const TITLE_FONT = "Liberation Sans";

export default function App() {
  const ref = useRef<HTMLDivElement>(null);

  useEffect(() => {
    if (!ref.current) return;
    const chart = echarts.init(ref.current, undefined, { renderer: "svg" });

    const pointsA = [
      residA00, residA10, residA20, residA30, residA40, residA50, residA60,
      residA70, residA80, residA90, residA100, residA110, residA120,
      denseA1, denseA2, denseA3,
    ].flatMap((arr) => toPairs(arr, 10, 10));
    const pointsB = [residB1, residB2, residB3, residB4, residB5].flatMap((arr) => toPairs(arr, 100, 10));
    const pointsBGray = toPairs(residBGray, 100, 10);
    const fitB = fitTimesB.map((t, i) => [t, fitValuesB[i]]);
    const spin = spinTimes.map((t, i) => [t, spinPhases[i]]);

    const dotted = { type: "dotted" as const, color: "#8c8c8c", width: 1 };
    const tickLabel = { fontFamily: TICK_FONT, fontSize: 17, color: "#222" };

    const circleLabel = (cx: number, cy: number, letter: string) => ({
      type: "group",
      children: [
        { type: "circle", shape: { cx, cy, r: 17.5 }, style: { fill: "#efefef", stroke: "#222", lineWidth: 1.5 } },
        {
          type: "text", x: cx, y: cy + 1,
          style: { text: letter, font: `24px '${TITLE_FONT}'`, fill: "#111", textAlign: "center", textVerticalAlign: "middle", align: "center", verticalAlign: "middle" },
        },
      ],
    });
    const txt = (x: number, y: number, text: string, size: number, align: string, family = TITLE_FONT, rotation = 0) => ({
      type: "text", x, y, rotation,
      style: { text, font: `${size}px '${family}'`, fill: "#111", textAlign: align, textVerticalAlign: "middle", align, verticalAlign: "middle" },
    });

    chart.setOption({
      animation: false,
      backgroundColor: "#fff",
      grid: [
        { left: 97, top: 15, width: 693, height: 383 },
        { left: 813, top: 15, width: 375, height: 383 },
        { left: 97, top: 427, width: 693, height: 118 },
      ],
      xAxis: [
        {
          gridIndex: 0, type: "value", min: 0, max: 130, interval: 10,
          axisLine: { onZero: false, lineStyle: { color: "#b5b5b5", width: 1.5 } },
          axisTick: { show: true, length: 5, lineStyle: { color: "#999" } },
          axisLabel: { show: false }, splitLine: { show: false },
        },
        {
          gridIndex: 1, type: "value", min: zoomStart, max: zoomEnd, interval: 2,
          axisLine: { onZero: false, lineStyle: { color: "#999", width: 1.5 } },
          axisTick: { show: true, length: 5, lineStyle: { color: "#999" } },
          axisLabel: { ...tickLabel, margin: 13 }, splitLine: { show: false },
        },
        {
          gridIndex: 2, type: "value", min: 0, max: 130, interval: 10,
          axisLine: { onZero: false, lineStyle: { color: "#999", width: 1.5 } },
          axisTick: { show: true, length: 5, lineStyle: { color: "#999" } },
          axisLabel: { ...tickLabel, margin: 14, formatter: (v: number) => (v % 20 === 0 ? String(v) : "") },
          splitLine: { show: false },
        },
      ],
      yAxis: [
        {
          gridIndex: 0, type: "value", min: -10, max: 10, interval: 2,
          axisLine: { show: true, onZero: false, lineStyle: { color: "#b5b5b5", width: 1.5 } },
          axisTick: { show: true, length: 7, lineStyle: { color: "#999" } },
          axisLabel: { ...tickLabel, margin: 15 },
          splitLine: { show: true, lineStyle: dotted },
        },
        {
          gridIndex: 1, type: "value", min: -10, max: 10, interval: 2,
          axisLine: { show: true, onZero: false, lineStyle: { color: "#666", width: 1.5 } },
          axisTick: { show: true, length: 7, lineStyle: { color: "#999" } },
          axisLabel: { show: false },
          splitLine: { show: true, lineStyle: dotted },
        },
        {
          gridIndex: 2, type: "value", min: -50, max: 400,
          axisLine: { show: true, onZero: false, lineStyle: { color: "#b5b5b5", width: 1.5 } },
          axisTick: { show: true, length: 7, lineStyle: { color: "#999" }, customValues: [0, 100, 200, 300, 400] },
          axisLabel: { ...tickLabel, margin: 15, customValues: [0, 100, 200, 300, 400] },
          splitLine: { show: false },
        },
      ],
      series: [
        {
          type: "scatter", xAxisIndex: 0, yAxisIndex: 0, data: [], z: 1, silent: true,
          markLine: {
            silent: true, symbol: "none", label: { show: false }, lineStyle: dotted,
            data: spinTimes.map((t) => ({ xAxis: t })),
          },
        },
        {
          type: "scatter", name: "residuals", xAxisIndex: 0, yAxisIndex: 0, data: pointsA, z: 3, silent: true,
          symbol: "rect", symbolSize: 4.2, itemStyle: { color: "#000" },
        },
        {
          type: "scatter", xAxisIndex: 0, yAxisIndex: 0, data: [], z: 4, silent: true,
          markLine: {
            silent: true, symbol: ["arrow", "arrow"], symbolSize: 9, label: { show: false },
            lineStyle: { type: "solid", color: "#222", width: 1.2 },
            data: [[{ coord: [zoomStart, -9.05] }, { coord: [zoomEnd, -9.05] }]],
          },
        },
        {
          type: "scatter", xAxisIndex: 0, yAxisIndex: 0, data: [], z: 4, silent: true,
          markLine: {
            silent: true, symbol: "none", label: { show: false },
            lineStyle: { type: "solid", color: "#555", width: 1.2 },
            data: [
              [{ coord: [zoomStart, -8.6] }, { coord: [zoomStart, -9.5] }],
              [{ coord: [zoomEnd, -8.6] }, { coord: [zoomEnd, -9.5] }],
            ],
          },
        },
        {
          type: "scatter", xAxisIndex: 1, yAxisIndex: 1, data: pointsBGray, z: 2, silent: true,
          symbol: "rect", symbolSize: 3.2, itemStyle: { color: "#9a9a9a" },
        },
        {
          type: "scatter", xAxisIndex: 1, yAxisIndex: 1, data: pointsB, z: 3, silent: true,
          symbol: "rect", symbolSize: 3.2, itemStyle: { color: "#1a1a1a" },
        },
        {
          type: "line", xAxisIndex: 1, yAxisIndex: 1, data: fitB, z: 5, smooth: true, silent: true,
          showSymbol: false, lineStyle: { color: "#000", width: 3.2 },
          markLine: {
            silent: true, symbol: "none", label: { show: false }, lineStyle: dotted,
            data: [{ xAxis: closestApproach }],
          },
        },
        {
          type: "line", xAxisIndex: 2, yAxisIndex: 2, data: spin, z: 5, silent: true,
          symbol: "circle", symbolSize: 9, itemStyle: { color: "#000" },
          lineStyle: { color: "#222", width: 1.5 },
          markLine: {
            silent: true, symbol: "none", label: { show: false }, lineStyle: dotted,
            data: [
              ...spinTimes.map((t) => ({ xAxis: t })),
              ...[0, 100, 200, 300, 400].map((v) => ({ yAxis: v })),
            ],
          },
        },
      ],
      graphic: [
        circleLabel(118, 33, "A"),
        circleLabel(833, 35, "B"),
        circleLabel(118, 448, "C"),
        txt(863, 35, "Zoom", 23, "left"),
        txt(193, 366, "Zoom", 23, "center"),
        txt(1015, 378, "CA", 19, "left"),
        txt(778, 520, spinRateText, 18, "right", TICK_FONT),
        txt(21, 200, "Range residuals [mm]", 23, "center", TITLE_FONT, Math.PI / 2),
        txt(21, 483, "Spin phase [\u00b0]", 23, "center", TITLE_FONT, Math.PI / 2),
        txt(441, 597, "Time [s]", 23, "center"),
        txt(1000, 450, "Time [s]", 23, "center"),
      ],
    });

    return () => chart.dispose();
  }, []);

  return (
    <div
      ref={ref}
      style={{ position: "fixed", left: 0, top: 0, width: 1208, height: 613, background: "#fff" }}
    />
  );
}
